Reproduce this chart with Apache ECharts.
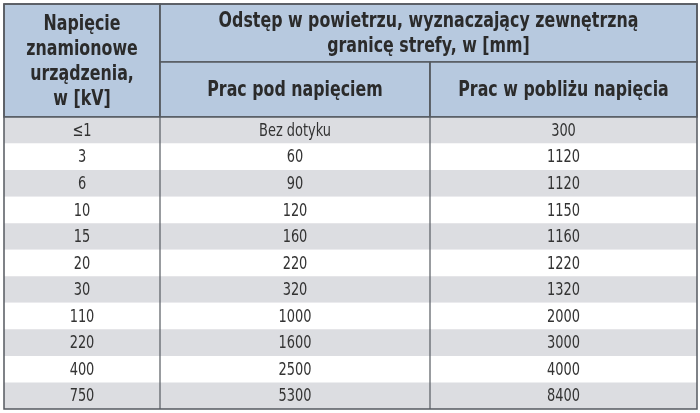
<!DOCTYPE html><html><head><meta charset="utf-8"><script src="https://cdn.jsdelivr.net/npm/echarts@6/dist/echarts.min.js"></script>
<style>html,body{margin:0;padding:0;background:#fff}#c{width:700px;height:413px}</style></head><body><div id="c"></div><script>
var voltages=['≤1','3','6','10','15','20','30','110','220','400','750'];
var workUnder=['Bez dotyku','60','90','120','160','220','320','1000','1600','2500','5300'];
var workNear=['300','1120','1120','1150','1160','1220','1320','2000','3000','4000','8400'];
var headCol1='Napięcie\nznamionowe\nurządzenia,\nw [kV]';
var headTop='Odstęp w powietrzu, wyznaczający zewnętrzną\ngranicę strefy, w [mm]';
var headSub=['Prac pod napięciem','Prac w pobliżu napięcia'];
var X=[4,160,430,697], TOP=4, HB=117, HM=62, BOT=409;
var F="'Liberation Sans Narrow','DejaVu Sans Condensed','Roboto',sans-serif";
var cells=[];
cells.push([X[0],TOP,X[1],HB,headCol1,'h']);
cells.push([X[1],TOP,X[3],HM,headTop,'h']);
cells.push([X[1],HM,X[2],HB,headSub[0],'h']);
cells.push([X[2],HM,X[3],HB,headSub[1],'h']);
var rh=(BOT-HB)/voltages.length;
voltages.forEach(function(v,i){var y0=HB+i*rh,y1=y0+rh,k=i%2?'w':'g';
 cells.push([X[0],y0,X[1],y1,v,k]);cells.push([X[1],y0,X[2],y1,workUnder[i],k]);cells.push([X[2],y0,X[3],y1,workNear[i],k]);});
var ch=echarts.init(document.getElementById('c'));
ch.setOption({animation:false,grid:{left:0,right:0,top:0,bottom:0},
xAxis:{type:'value',min:0,max:700,show:false},yAxis:{type:'value',min:0,max:413,inverse:true,show:false},
series:[{type:'custom',data:cells,renderItem:function(p,api){var d=cells[p.dataIndex];
 var a=api.coord([d[0],d[1]]),b=api.coord([d[2],d[3]]);var h=d[5]==='h';
 var fill=h?'#b7c9df':(d[5]==='g'?'#dcdde1':'#ffffff');
 return {type:'group',children:[{type:'rect',shape:{x:a[0],y:a[1],width:b[0]-a[0],height:b[1]-a[1]},style:{fill:fill,stroke:h?'#555a60':null,lineWidth:h?1.5:0}},
 {type:'text',x:(a[0]+b[0])/2,y:(a[1]+b[1])/2+1,scaleX:0.8,style:{x:0,y:0,text:d[4],align:'center',verticalAlign:'middle',fill:h?'#2b2b2b':'#333',font:(h?'bold 22px ':'18px ')+F,lineHeight:h?25:18}}]};}}],
graphic:[{type:'rect',shape:{x:X[0],y:TOP,width:X[3]-X[0],height:BOT-TOP},style:{fill:null,stroke:'#555a60',lineWidth:1.5},z:100},
 {type:'line',shape:{x1:X[1],y1:TOP,x2:X[1],y2:BOT},style:{stroke:'#555a60',lineWidth:1.2},z:100},
 {type:'line',shape:{x1:X[2],y1:HM,x2:X[2],y2:BOT},style:{stroke:'#555a60',lineWidth:1.2},z:100},
 {type:'line',shape:{x1:X[0],y1:HB,x2:X[3],y2:HB},style:{stroke:'#555a60',lineWidth:1.5},z:100}]});
</script></body></html>
